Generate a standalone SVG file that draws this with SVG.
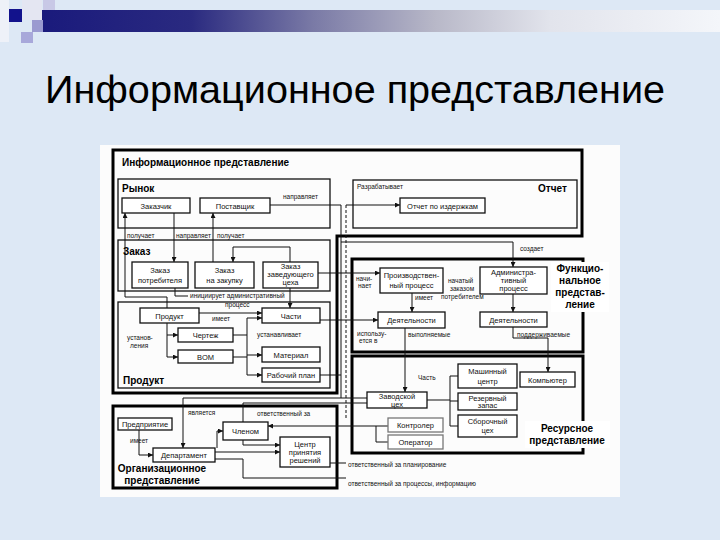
<svg xmlns="http://www.w3.org/2000/svg" width="720" height="540" viewBox="0 0 720 540">
<defs>
<linearGradient id="bar" x1="0" y1="0" x2="1" y2="0">
<stop offset="0" stop-color="#1a1a7c"/>
<stop offset="0.22" stop-color="#2a2a80"/>
<stop offset="0.4" stop-color="#7a7aa6"/>
<stop offset="0.58" stop-color="#b8b8c8"/>
<stop offset="0.75" stop-color="#e2e4ec"/>
<stop offset="1" stop-color="#f4f6fa"/>
</linearGradient>
<marker id="ar" viewBox="0 0 8 8" refX="8" refY="4" markerWidth="5" markerHeight="5" orient="auto" markerUnits="userSpaceOnUse">
<path d="M0,0 L8,4 L0,8 Z" fill="#111"/>
</marker>
<style>
.bx{fill:#fff;stroke:#111;stroke-width:1.3}
.gb{fill:#fff;stroke:#777;stroke-width:1.3}
.sec{fill:none;stroke:#111;stroke-width:1.3}
.fr{fill:none;stroke:#000;stroke-width:3}
.ln{fill:none;stroke:#111;stroke-width:1}
.da{stroke-dasharray:3 2}
.t{font-family:"Liberation Sans",Arial,sans-serif;font-size:7.5px;fill:#111;text-anchor:middle}
.s{font-family:"Liberation Sans",Arial,sans-serif;font-size:6.5px;fill:#111}
.h{font-family:"Liberation Sans",Arial,sans-serif;font-size:10px;font-weight:bold;fill:#000}
.hc{font-family:"Liberation Sans",Arial,sans-serif;font-size:10px;font-weight:bold;fill:#000;text-anchor:middle}
</style>
</defs>
<rect width="720" height="540" fill="#dde8f5"/>
<rect x="42" y="10" width="678" height="22" fill="url(#bar)"/>
<rect x="0" y="0" width="9" height="42" fill="#eef1f8"/>
<rect x="22" y="0" width="20" height="20" fill="#e4e6f2"/>
<rect x="43" y="0" width="12" height="10" fill="#c8c8e6"/>
<rect x="32" y="20" width="11" height="12" fill="#9a9ad0"/>
<rect x="9" y="9" width="13" height="13" fill="#12128c"/>
<rect x="21" y="32" width="12" height="11" fill="#a8a8da"/>
<text x="45" y="103" font-family="'Liberation Sans',Arial,sans-serif" font-size="39" fill="#000" textLength="620" lengthAdjust="spacingAndGlyphs">Информационное представление</text>
<rect x="100" y="145" width="520" height="352" fill="#fcfcfc"/>
<g id="frames">
<path class="fr" d="M113,150 H582 V236 H337 V393 H113 Z"/>
<rect class="fr" x="352" y="259" width="231" height="93"/>
<rect class="fr" x="352" y="356" width="231" height="97"/>
<rect class="fr" x="113" y="406" width="224" height="82"/>
<rect class="sec" x="118" y="179" width="212" height="49"/>
<rect class="sec" x="118" y="240" width="212" height="51"/>
<rect class="sec" x="118" y="302" width="212" height="86"/>
<rect class="sec" x="353" y="180" width="224" height="48"/>
</g>
<g id="connectors">
<path class="ln" d="M167,308 V297 H125 V213" marker-end="url(#ar)"/>
<path class="ln" d="M174,213 V262" marker-end="url(#ar)"/>
<path class="ln" d="M213,262 V213" marker-end="url(#ar)"/>
<path class="ln" d="M290,262 V247 H233 V262" marker-end="url(#ar)"/>
<path class="ln" d="M270,205 H341 V398"/>
<path class="ln da" d="M346,205 V420"/>
<path class="ln" d="M346,205 H400" marker-end="url(#ar)"/>
<path class="ln" d="M341,242 H513 V267" marker-end="url(#ar)"/>
<path class="ln" d="M318,273 H380" marker-end="url(#ar)"/>
<path class="ln" d="M175,288 V296 H188"/>
<path class="ln" d="M290,288 V308" marker-end="url(#ar)"/>
<path class="ln" d="M199,313 H262" marker-end="url(#ar)"/>
<path class="ln" d="M167,323 V357 H178" marker-end="url(#ar)"/>
<path class="ln" d="M167,335 H178" marker-end="url(#ar)"/>
<path class="ln" d="M233,335 H247 M233,357 H247 M247,318 V375"/>
<path class="ln" d="M247,318 H262" marker-end="url(#ar)"/>
<path class="ln" d="M247,355 H262" marker-end="url(#ar)"/>
<path class="ln" d="M247,375 H262" marker-end="url(#ar)"/>
<path class="ln" d="M320,320 H378" marker-end="url(#ar)"/>
<path class="ln" d="M320,375 H341"/>
<path class="ln" d="M412,293 V312" marker-end="url(#ar)"/>
<path class="ln" d="M513,294 V312" marker-end="url(#ar)"/>
<path class="ln" d="M405,328 V392" marker-end="url(#ar)"/>
<path class="ln" d="M513,327 V338 H548 V372" marker-end="url(#ar)"/>
<path class="ln" d="M427,400 H450 M450,376 V426 M450,376 H458 M450,401 H458 M450,426 H458"/>
<path class="ln" d="M367,398 H183 V448" marker-end="url(#ar)"/>
<path class="ln" d="M367,403 H243 V445 H280" marker-end="url(#ar)"/>
<path class="ln" d="M388,426 H268" marker-end="url(#ar)"/>
<path class="ln" d="M376,426 V442 H388"/>
<path class="ln" d="M139,430 V455 H153" marker-end="url(#ar)"/>
<path class="ln" d="M215,452 H280" marker-end="url(#ar)"/>
<path class="ln" d="M217,448 V431 H223" marker-end="url(#ar)"/>
<path class="ln" d="M215,459 H243 V478 H346"/>
<path class="ln" d="M330,463 H346"/>
</g>
<g id="labels">
<text class="h" x="122" y="166">Информационное представление</text>
<text class="h" x="122" y="192">Рынок</text>
<text class="h" x="538" y="192">Отчет</text>
<text class="h" x="123" y="255">Заказ</text>
<text class="h" x="123" y="384">Продукт</text>
<rect x="551" y="262" width="58" height="50" fill="#fff"/>
<text class="hc" x="580" y="272">Функцио-</text>
<text class="hc" x="580" y="284">нальное</text>
<text class="hc" x="580" y="296">представ-</text>
<text class="hc" x="580" y="308">ление</text>
<rect x="525" y="421" width="85" height="27" fill="#fff"/>
<text class="hc" x="567" y="432">Ресурсное</text>
<text class="hc" x="567" y="444">представление</text>
<text class="hc" x="162" y="472">Организационное</text>
<text class="hc" x="162" y="484">представление</text>
<text class="s" x="283" y="199">направляет</text>
<text class="s" x="357" y="189">Разрабатывает</text>
<text class="s" x="127" y="238">получает</text>
<text class="s" x="176" y="238">направляет</text>
<text class="s" x="217" y="238">получает</text>
<text class="s" x="520" y="251" font-size="7.5">создает</text>
<text class="s" x="356" y="281">начи-</text>
<text class="s" x="358" y="288">нает</text>
<text class="s" x="448" y="283">начатый</text>
<text class="s" x="450" y="291">заказом</text>
<text class="s" x="441" y="299">потребителем</text>
<text class="s" x="415" y="300">имеет</text>
<text class="s" x="190" y="298">инициирует административный</text>
<text class="s" x="225" y="307">процесс</text>
<text class="s" x="212" y="321">имеет</text>
<text class="s" x="127" y="340">установ-</text>
<text class="s" x="130" y="348">ления</text>
<text class="s" x="257" y="337">устанавливает</text>
<text class="s" x="357" y="336">использу-</text>
<text class="s" x="359" y="343">ется в</text>
<text class="s" x="408" y="337">выполняемые</text>
<text class="s" x="517" y="337">поддерживаемые</text>
<text class="s" x="418" y="380">Часть</text>
<text class="s" x="188" y="415">является</text>
<text class="s" x="257" y="416">ответственный за</text>
<text class="s" x="130" y="443">имеет</text>
<text class="s" x="348" y="467">ответственный за планирование</text>
<text class="s" x="348" y="486">ответственный за процессы, информацию</text>
</g>
<g id="zakazchik"><rect class="bx" x="122" y="198" width="68" height="15"/><text class="t" x="156" y="208.5">Заказчик</text></g>
<g id="postavshik"><rect class="bx" x="200" y="198" width="70" height="15"/><text class="t" x="235" y="208.5">Поставщик</text></g>
<g id="otchet-izd"><rect class="bx" x="400" y="198" width="85" height="15"/><text class="t" x="442.5" y="208.5">Отчет по издержкам</text></g>
<g id="zakaz-potr"><rect class="bx" x="132" y="262" width="56" height="26"/><text class="t" x="160" y="273">Заказ</text><text class="t" x="160" y="283">потребителя</text></g>
<g id="zakaz-zak"><rect class="bx" x="195" y="262" width="59" height="26"/><text class="t" x="224.5" y="273">Заказ</text><text class="t" x="224.5" y="283">на закупку</text></g>
<g id="zakaz-zav"><rect class="bx" x="263" y="262" width="55" height="26"/><text class="t" x="290.5" y="269">Заказ</text><text class="t" x="290.5" y="277">заведующего</text><text class="t" x="290.5" y="285">цеха</text></g>
<g id="produkt"><rect class="bx" x="140" y="308" width="59" height="15"/><text class="t" x="169.5" y="318.5">Продукт</text></g>
<g id="chasti"><rect class="bx" x="262" y="308" width="58" height="15"/><text class="t" x="291" y="318.5">Части</text></g>
<g id="chertezh"><rect class="bx" x="178" y="328" width="55" height="14"/><text class="t" x="205.5" y="338">Чертеж</text></g>
<g id="bom"><rect class="bx" x="178" y="350" width="55" height="13"/><text class="t" x="205.5" y="359.5">BOM</text></g>
<g id="material"><rect class="bx" x="262" y="347" width="58" height="15"/><text class="t" x="291" y="357.5">Материал</text></g>
<g id="rab-plan"><rect class="bx" x="262" y="368" width="58" height="14"/><text class="t" x="291" y="378">Рабочий план</text></g>
<g id="proizv"><rect class="bx" x="380" y="268" width="63" height="25"/><text class="t" x="411.5" y="278">Производствен-</text><text class="t" x="411.5" y="288">ный процесс</text></g>
<g id="adm"><rect class="bx" x="480" y="267" width="67" height="27"/><text class="t" x="513.5" y="275">Администра-</text><text class="t" x="513.5" y="283">тивный</text><text class="t" x="513.5" y="291">процесс</text></g>
<g id="deyat1"><rect class="bx" x="378" y="312" width="67" height="16"/><text class="t" x="411.5" y="323">Деятельности</text></g>
<g id="deyat2"><rect class="bx" x="480" y="312" width="67" height="15"/><text class="t" x="513.5" y="322.5">Деятельности</text></g>
<g id="mash"><rect class="bx" x="458" y="364" width="59" height="24"/><text class="t" x="487.5" y="374">Машинный</text><text class="t" x="487.5" y="384">центр</text></g>
<g id="komp"><rect class="bx" x="520" y="372" width="55" height="15"/><text class="t" x="547.5" y="382.5">Компьютер</text></g>
<g id="rezerv"><rect class="bx" x="458" y="393" width="59" height="17"/><text class="t" x="487.5" y="400.5">Резервный</text><text class="t" x="487.5" y="408">запас</text></g>
<g id="sborka"><rect class="bx" x="458" y="415" width="59" height="22"/><text class="t" x="487.5" y="424">Сборочный</text><text class="t" x="487.5" y="433">цех</text></g>
<g id="zavod"><rect class="bx" x="367" y="392" width="60" height="16"/><text class="t" x="397" y="399">Заводской</text><text class="t" x="397" y="406.5">цех</text></g>
<g id="kontr"><rect class="gb" x="388" y="418" width="55" height="14"/><text class="t" x="415.5" y="428">Контролер</text></g>
<g id="oper"><rect class="gb" x="388" y="435" width="55" height="14"/><text class="t" x="415.5" y="445">Оператор</text></g>
<g id="predpr"><rect class="bx" x="118" y="418" width="54" height="12"/><text class="t" x="145" y="426.5">Предприятие</text></g>
<g id="depart"><rect class="bx" x="153" y="448" width="62" height="14"/><text class="t" x="184" y="458">Департамент</text></g>
<g id="chlen"><rect class="bx" x="223" y="422" width="45" height="18"/><text class="t" x="245.5" y="434">Членом</text></g>
<g id="centr"><rect class="bx" x="280" y="437" width="50" height="30"/><text class="t" x="305" y="447">Центр</text><text class="t" x="305" y="455">принятия</text><text class="t" x="305" y="463">решений</text></g>
</svg>
